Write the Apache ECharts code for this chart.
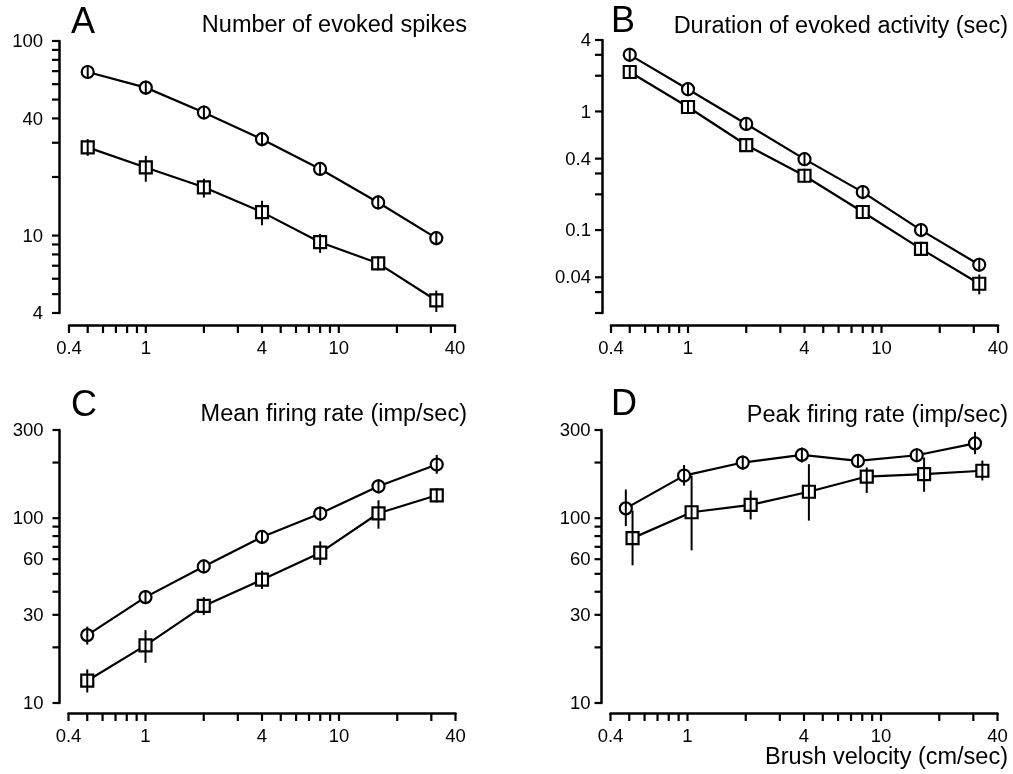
<!DOCTYPE html>
<html><head><meta charset="utf-8">
<script src="https://cdn.jsdelivr.net/npm/echarts@6/dist/echarts.min.js"></script>
<style>html,body{margin:0;padding:0;background:#fff}#c{width:1013px;height:774px}</style>
</head><body><div id="c"></div>
<script>
// ---------- data ----------
const velocity = [0.5, 1, 2, 4, 8, 16, 32];
const velocityD_circle = [0.48, 0.96, 1.93, 3.9, 7.6, 15.3, 30.6];
const velocityD_square = [0.52, 1.05, 2.12, 4.24, 8.44, 16.7, 33.4];

const spikesCircle    = [69.3, 57.6, 42.9, 31.3, 22.0, 14.8, 9.7];
const spikesCircleLo  = [66, 55, 41, 30, 21, 14.2, 9.3];
const spikesCircleHi  = [72.5, 60.5, 45, 32.8, 23, 15.5, 10.2];
const spikesSquare    = [28.4, 22.4, 17.7, 13.2, 9.25, 7.2, 4.64];
const spikesSquareLo  = [25.7, 18.9, 15.7, 11.3, 8.15, 6.8, 4.05];
const spikesSquareHi  = [31.3, 25.7, 19.6, 15.1, 10.2, 7.6, 5.22];

const durCircle   = [3.0, 1.54, 0.784, 0.396, 0.209, 0.1, 0.051];
const durCircleLo = [2.85, 1.46, 0.745, 0.376, 0.199, 0.095, 0.048];
const durCircleHi = [3.15, 1.62, 0.82, 0.415, 0.22, 0.105, 0.054];
const durSquare   = [2.15, 1.09, 0.521, 0.287, 0.142, 0.0695, 0.0353];
const durSquareLo = [2.04, 1.03, 0.495, 0.27, 0.135, 0.066, 0.0287];
const durSquareHi = [2.26, 1.15, 0.547, 0.305, 0.149, 0.073, 0.0422];

const meanCircle   = [23.3, 37.4, 54.8, 79.2, 105.9, 148.8, 195];
const meanCircleLo = [20.7, 35.8, 52.5, 75.8, 101.5, 142.5, 174];
const meanCircleHi = [25.9, 39, 57.2, 82.7, 110.5, 155.3, 220];
const meanSquare   = [13.2, 20.5, 33.5, 46.5, 65.1, 106.3, 133];
const meanSquareLo = [11.4, 16.5, 29.9, 41.4, 55.8, 87.7, 126];
const meanSquareHi = [15.2, 24.8, 37.4, 51.9, 75, 125, 140];

const peakCircle   = [113, 170, 200, 220, 204, 219, 254];
const peakCircleLo = [90.6, 150, 187, 200, 190, 205, 222];
const peakCircleHi = [143, 194, 214, 241, 218, 234, 293];
const peakSquare   = [78, 107.7, 118, 139, 168, 173, 180.6];
const peakSquareLo = [55.6, 67, 98.4, 97, 137, 139, 160];
const peakSquareHi = [110, 170, 141, 196, 188, 213, 205];

const xTicks = [0.4, 0.5, 0.6, 0.7, 0.8, 0.9, 1, 2, 3, 4, 5, 6, 7, 8, 9, 10, 20, 30, 40];
const xTickLabels = [0.4, 1, 4, 10, 40];
const yTicksA = [4, 5, 6, 7, 8, 9, 10, 20, 30, 40, 50, 60, 70, 80, 90, 100];
const yLabelsA = [4, 10, 40, 100];
const yTicksB = [0.02, 0.03, 0.04, 0.1, 0.2, 0.3, 0.4, 1, 2, 3, 4];
const yLabelsB = [0.04, 0.1, 0.4, 1, 4];
const yTicksCD = [10, 20, 30, 40, 50, 60, 70, 80, 90, 100, 200, 300];
const yLabelsCD = [10, 30, 60, 100, 300];

const panelLetters = ['A', 'B', 'C', 'D'];
const panelTitles = ['Number of evoked spikes', 'Duration of evoked activity (sec)',
                     'Mean firing rate (imp/sec)', 'Peak firing rate (imp/sec)'];
const xAxisTitle = 'Brush velocity (cm/sec)';

// ---------- layout / style ----------
const FONT = '"Liberation Sans", Arial, Helvetica, sans-serif';
const TICK_FONT = '18.5px ' + FONT;
const panels = [
  { grid: {left: 69, top: 41, width: 386, height: 272}, yMin: 4, yMax: 100, yTicks: yTicksA, yLabels: yLabelsA,
    xC: velocity, xS: velocity, c: [spikesCircle, spikesCircleLo, spikesCircleHi], s: [spikesSquare, spikesSquareLo, spikesSquareHi],
    yOff: 10, xOff: 12, labGap: 16 },
  { grid: {left: 611, top: 40, width: 387, height: 273}, yMin: 0.02, yMax: 4, yTicks: yTicksB, yLabels: yLabelsB,
    xC: velocity, xS: velocity, c: [durCircle, durCircleLo, durCircleHi], s: [durSquare, durSquareLo, durSquareHi],
    yOff: 9, xOff: 12, labGap: 11 },
  { grid: {left: 68.5, top: 430, width: 387, height: 273}, yMin: 10, yMax: 300, yTicks: yTicksCD, yLabels: yLabelsCD,
    xC: velocity, xS: velocity, c: [meanCircle, meanCircleLo, meanCircleHi], s: [meanSquare, meanSquareLo, meanSquareHi],
    yOff: 9, xOff: 10, labGap: 16 },
  { grid: {left: 610.5, top: 430, width: 387, height: 273}, yMin: 10, yMax: 300, yTicks: yTicksCD, yLabels: yLabelsCD,
    xC: velocityD_circle, xS: velocityD_square, c: [peakCircle, peakCircleLo, peakCircleHi], s: [peakSquare, peakSquareLo, peakSquareHi],
    yOff: 9, xOff: 10, labGap: 11 }
];

const SYM = 12, HALF = 7;
const series = [], grids = [], xAxes = [], yAxes = [];

function errRender(params, api) {
  const x = api.value(0), lo = api.value(1), hi = api.value(2), v = api.value(3);
  const pc = api.coord([x, v]), pl = api.coord([x, lo]), ph = api.coord([x, hi]);
  const top = Math.min(ph[1], pc[1] - HALF), bot = Math.max(pl[1], pc[1] + HALF);
  return {type: 'line', shape: {x1: pc[0], y1: top, x2: pc[0], y2: bot},
          style: {stroke: '#000', lineWidth: 2}};
}

panels.forEach((p, i) => {
  grids.push(Object.assign({containLabel: false}, p.grid));
  xAxes.push({type: 'log', logBase: 10, gridIndex: i, min: 0.4, max: 40, offset: p.xOff,
    axisLine: {show: true, lineStyle: {color: '#000', width: 2.5}},
    axisTick: {show: false}, axisLabel: {show: false}, splitLine: {show: false}});
  yAxes.push({type: 'log', logBase: 10, gridIndex: i, min: p.yMin, max: p.yMax, offset: p.yOff,
    axisLine: {show: true, lineStyle: {color: '#000', width: 2.5}},
    axisTick: {show: false}, axisLabel: {show: false}, splitLine: {show: false}});

  const common = {xAxisIndex: i, yAxisIndex: i, silent: true, animation: false};
  series.push(Object.assign({type: 'line', symbol: 'circle', symbolSize: SYM,
    data: p.xC.map((x, k) => [x, p.c[0][k]]),
    lineStyle: {color: '#000', width: 2.2}, itemStyle: {color: '#fff', borderColor: '#000', borderWidth: 2.2}, z: 2}, common));
  series.push(Object.assign({type: 'line', symbol: 'rect', symbolSize: SYM,
    data: p.xS.map((x, k) => [x, p.s[0][k]]),
    lineStyle: {color: '#000', width: 2.2}, itemStyle: {color: '#fff', borderColor: '#000', borderWidth: 2.2}, z: 2}, common));
  series.push(Object.assign({type: 'custom', renderItem: errRender, z: 4,
    data: p.xC.map((x, k) => [x, p.c[1][k], p.c[2][k], p.c[0][k]])}, common));
  series.push(Object.assign({type: 'custom', renderItem: errRender, z: 4,
    data: p.xS.map((x, k) => [x, p.s[1][k], p.s[2][k], p.s[0][k]])}, common));

  // y-axis ticks and labels
  series.push(Object.assign({type: 'custom', z: 5,
    data: p.yTicks.map(v => [0.4, v]),
    renderItem: (params, api) => {
      const v = api.value(1);
      const pt = api.coord([0.4, v]);
      const x0 = pt[0] - p.yOff;
      const ch = [{type: 'line', shape: {x1: x0, y1: pt[1], x2: x0 - 7, y2: pt[1]}, style: {stroke: '#000', lineWidth: 2.2}}];
      if (p.yLabels.indexOf(v) >= 0) {
        ch.push({type: 'text', style: {text: String(v), x: x0 - p.labGap, y: pt[1] + 1, align: 'right', verticalAlign: 'middle', font: TICK_FONT, fill: '#000'}});
      }
      return {type: 'group', children: ch};
    }}, common));
  // x-axis ticks and labels
  series.push(Object.assign({type: 'custom', z: 5,
    data: xTicks.map(v => [v, p.yMin]),
    renderItem: (params, api) => {
      const v = api.value(0);
      const pt = api.coord([v, p.yMin]);
      const y0 = pt[1] + p.xOff;
      const ch = [{type: 'line', shape: {x1: pt[0], y1: y0, x2: pt[0], y2: y0 + 8}, style: {stroke: '#000', lineWidth: 2.2}}];
      if (xTickLabels.indexOf(v) >= 0) {
        ch.push({type: 'text', style: {text: String(v), x: pt[0], y: y0 + 24, align: 'center', verticalAlign: 'middle', font: TICK_FONT, fill: '#000'}});
      }
      return {type: 'group', children: ch};
    }}, common));
});

const TITLE_FONT = '23.5px ' + FONT;
const LETTER_FONT = '36px ' + FONT;
const letterPos = [[71, 23], [611, 22], [71, 406], [611, 405]];
const titlePos = [[467, 26], [1008, 27], [467, 415], [1008, 416]];
const graphic = [];
panelLetters.forEach((L, i) => {
  graphic.push({type: 'text', x: letterPos[i][0], y: letterPos[i][1], style: {text: L, font: LETTER_FONT, fill: '#000', align: 'left', verticalAlign: 'middle'}});
  graphic.push({type: 'text', x: titlePos[i][0], y: titlePos[i][1], style: {text: panelTitles[i], font: TITLE_FONT, fill: '#000', align: 'right', verticalAlign: 'middle'}});
});
graphic.push({type: 'text', x: 1008, y: 758, style: {text: xAxisTitle, font: TITLE_FONT, fill: '#000', align: 'right', verticalAlign: 'middle'}});

const chart = echarts.init(document.getElementById('c'));
chart.setOption({
  animation: false,
  backgroundColor: '#fff',
  grid: grids, xAxis: xAxes, yAxis: yAxes, series: series, graphic: graphic
});
</script>
</body></html>
